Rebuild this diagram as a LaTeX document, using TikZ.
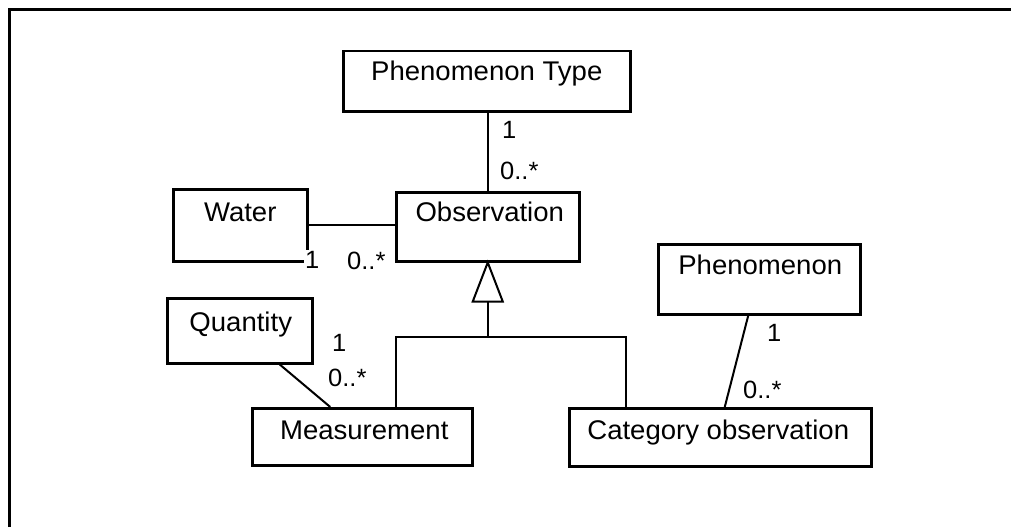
\documentclass[tikz,border=0pt]{standalone}
\usepackage{fontspec}
\setmainfont[FakeStretch=1.02]{Liberation Sans}
\usetikzlibrary{calc}
\tikzset{
  box/.style={draw=black, line width=2.5pt, rectangle, inner sep=0pt, anchor=north west},
  conn/.style={draw=black, line width=2pt},
  txt/.style={anchor=base, inner sep=0pt, font=\fontsize{27}{30}\selectfont},
  mult/.style={anchor=base west, inner sep=0pt, font=\fontsize{25}{28}\selectfont},
}
\begin{document}
\begin{tikzpicture}[x=1pt,y=-1pt]
\useasboundingbox (0,0) rectangle (1011,527);
% frame
\coordinate (fl) at (9,527);
\coordinate (fc) at (9,10);
\coordinate (fr) at (1011,10);
\draw[line width=3pt] (fl) -- (fc) -- (fr);

% boxes
\node[box, minimum width=287pt, minimum height=60pt] (pt) at (342,50) {};
\node[box, minimum width=183pt, minimum height=69pt] (obs) at (395,191) {};
\node[box, minimum width=134pt, minimum height=72pt] (water) at (172,188) {};
\node[box, minimum width=202pt, minimum height=70pt] (phen) at (657,243) {};
\node[box, minimum width=145pt, minimum height=65pt] (quant) at (166,297) {};
\node[box, minimum width=220pt, minimum height=57pt] (meas) at (251,407) {};
\node[box, minimum width=302pt, minimum height=58pt] (cat) at (568,407) {};

% box texts
\node[txt] (ptt) at ($(pt.north)+(0,31)$) {Phenomenon Type};
\node[txt] (obst) at ($(obs.north)+(2,30)$) {Observation};
\node[txt] (watert) at ($(water.north)+(0,33)$) {Water};
\node[txt] (phent) at ($(phen.north)+(1,31)$) {Phenomenon};
\node[txt] (quantt) at ($(quant.north)+(1,34)$) {Quantity};
\node[txt] (meast) at ($(meas.north)+(2,32)$) {Measurement};
\node[txt] (catt) at ($(cat.north)+(-2,32)$) {Category observation};

% associations
\draw[conn] (obs.north) -- (obs.north |- pt.south);
\draw[conn] (water.east) -- (water.east -| obs.west);
\draw[conn] ([xshift=40pt]quant.south) -- ([xshift=-32pt]meas.north);
\draw[conn] ([xshift=-11pt]phen.south) -- ([xshift=4.5pt]cat.north);

% generalization
\coordinate (tb) at ($(obs.south)+(0,39)$);
\coordinate (j) at ($(obs.south)+(0,74)$);
\draw[conn, fill=white] (obs.south) -- ++(-15,39) -- ++(30,0) -- cycle;
\draw[conn] (tb) -- (j);
\draw[conn] ([xshift=34pt]meas.north) |- (j) -| ([xshift=-94.5pt]cat.north);

% multiplicities
\node[mult] (m1) at (502,138) {1};
\node[mult] (m2) at (500,179) {0..*};
\node[mult, fill=white, inner sep=1pt] (m3) at (304,268) {1};
\node[mult] (m4) at (347,269) {0..*};
\node[mult] (m5) at (332,351) {1};
\node[mult] (m6) at (328,386) {0..*};
\node[mult] (m7) at (767,341) {1};
\node[mult] (m8) at (743,398) {0..*};
\end{tikzpicture}
\end{document}
